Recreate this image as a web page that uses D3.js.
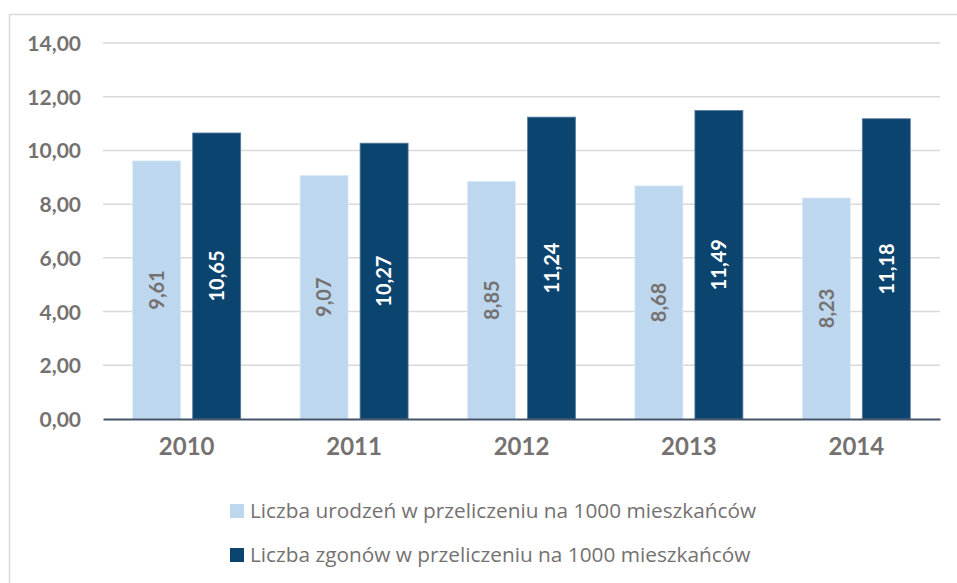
<!DOCTYPE html>
<html>
<head>
<meta charset="utf-8">
<script src="https://cdn.jsdelivr.net/npm/d3@7"></script>
<style>
  html, body { margin: 0; padding: 0; background: #fff; }
  svg { display: block; font-family: Lato, "Open Sans", sans-serif; }
</style>
</head>
<body>
<div id="chart"></div>
<script>
// chart values
const years = ["2010", "2011", "2012", "2013", "2014"];
const births = [9.61, 9.07, 8.85, 8.68, 8.23];
const deaths = [10.65, 10.27, 11.24, 11.49, 11.18];
const yTicks = [0, 2, 4, 6, 8, 10, 12, 14];
const seriesNames = [
  "Liczba urodzeń w przeliczeniu na 1000 mieszkańców",
  "Liczba zgonów w przeliczeniu na 1000 mieszkańców"
];
const seriesColors = ["#BDD7EE", "#0B446F"];
const labelColors = ["#757171", "#FFFFFF"];

const w = 957;
const h = 583;

const pl = d3.formatLocale({ decimal: ",", thousands: " ", grouping: [3], currency: ["", " zł"] });
const fmt = pl.format(".2f");

const svg = d3.select("#chart")
  .append("svg")
  .attr("width", w)
  .attr("height", h);

// outer chart frame
svg.append("rect")
  .attr("x", 9.5)
  .attr("y", 14.5)
  .attr("width", w + 20)
  .attr("height", h + 20)
  .attr("fill", "#fff")
  .attr("stroke", "#D9D9D9")
  .attr("stroke-width", 1.5);

const xScale = d3.scaleBand()
  .domain(years)
  .range([103, 940]);

const yScale = d3.scaleLinear()
  .domain([0, 14])
  .range([419, 43]);

const xSub = d3.scaleBand()
  .domain([0, 1])
  .range([0, xScale.bandwidth()])
  .paddingInner(0.2)
  .paddingOuter(0.495);

// grid lines
svg.append("g")
  .selectAll("line")
  .data(yTicks.filter(t => t > 0))
  .enter()
  .append("line")
  .attr("x1", 103)
  .attr("x2", 940)
  .attr("y1", d => yScale(d))
  .attr("y2", d => yScale(d))
  .attr("stroke", "#D9D9D9")
  .attr("stroke-width", 1.5);

// y axis labels
const yAxis = d3.axisLeft(yScale).tickValues(yTicks).tickFormat(fmt).tickSize(0).tickPadding(0);
const gy = svg.append("g")
  .attr("transform", "translate(81,0)")
  .call(yAxis);
gy.select(".domain").remove();
gy.selectAll("text")
  .attr("fill", "#757171")
  .attr("font-size", 21)
  .attr("font-weight", "bold")
  .attr("font-family", "Lato, sans-serif")
  .attr("dy", "0.36em");

// bars
const rows = [];
years.forEach((yr, i) => {
  rows.push({ year: yr, s: 0, v: births[i] });
  rows.push({ year: yr, s: 1, v: deaths[i] });
});

const bars = svg.append("g")
  .selectAll("g")
  .data(rows)
  .enter()
  .append("g")
  .attr("transform", d => "translate(" + (xScale(d.year) + xSub(d.s)) + ",0)");

bars.append("rect")
  .attr("x", 0)
  .attr("y", d => yScale(d.v))
  .attr("width", xSub.bandwidth())
  .attr("height", d => yScale(0) - yScale(d.v))
  .attr("fill", d => seriesColors[d.s])
  .attr("stroke", d => d.s === 0 ? "#DCEAF6" : "#5A7FA0")
  .attr("stroke-width", 0.8);

bars.append("text")
  .attr("transform", d => "translate(" + (xSub.bandwidth() / 2) + "," + ((yScale(d.v) + yScale(0)) / 2) + ") rotate(-90)")
  .attr("text-anchor", "middle")
  .attr("dy", "0.36em")
  .attr("fill", d => labelColors[d.s])
  .attr("font-size", 20)
  .attr("font-weight", "bold")
  .text(d => fmt(d.v));

// x axis
const xAxis = d3.axisBottom(xScale).tickSize(0).tickPadding(0);
const gx = svg.append("g")
  .attr("transform", "translate(0,419)")
  .call(xAxis);
gx.select(".domain")
  .attr("stroke", "#44546A")
  .attr("stroke-width", 2.2);
gx.selectAll("text")
  .attr("fill", "#757171")
  .attr("font-size", 24)
  .attr("font-weight", "bold")
  .attr("font-family", "Lato, sans-serif")
  .attr("dy", "1.5em");

// legend
const legend = svg.append("g")
  .selectAll("g")
  .data(seriesNames)
  .enter()
  .append("g")
  .attr("transform", (d, i) => "translate(230," + (504 + i * 44) + ")");

legend.append("rect")
  .attr("width", 14)
  .attr("height", 14)
  .attr("fill", (d, i) => seriesColors[i]);

legend.append("text")
  .attr("x", 20)
  .attr("y", 13.5)
  .attr("fill", "#757171")
  .attr("font-size", 20.8)
  .attr("font-family", "'Open Sans', sans-serif")
  .text(d => d);
</script>
</body>
</html>
